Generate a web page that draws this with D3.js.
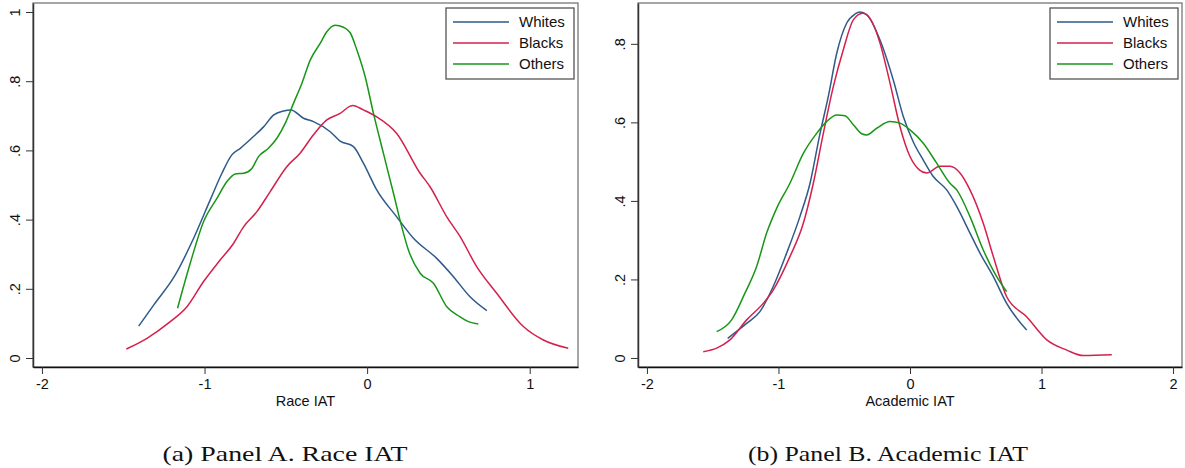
<!DOCTYPE html>
<html>
<head>
<meta charset="utf-8">
<script src="https://cdn.jsdelivr.net/npm/d3@7"></script>
<style>
    html, body { margin: 0; padding: 0; background: #fff; }
    svg { display: block; }
</style>
</head>
<body>
<div id="chart"></div>
<script>
// series labels
var groups = ['Whites', 'Blacks', 'Others'];
var groupColors = ['#2f5a89', '#d4204c', '#189618'];

// Panel A: Race IAT, kernel density estimates [IAT, density]
var raceWhites = [[-1.405, 0.092], [-1.313, 0.153], [-1.18, 0.24], [-1.067, 0.346], [-0.965, 0.457],
    [-0.893, 0.534], [-0.832, 0.587], [-0.78, 0.606], [-0.699, 0.64], [-0.637, 0.668], [-0.576, 0.702],
    [-0.514, 0.714], [-0.469, 0.717], [-0.391, 0.693], [-0.33, 0.683], [-0.227, 0.654], [-0.166, 0.627],
    [-0.084, 0.611], [-0.023, 0.563], [0.059, 0.486], [0.182, 0.408], [0.285, 0.346], [0.428, 0.288],
    [0.531, 0.235], [0.633, 0.177], [0.736, 0.137]];
var raceBlacks = [[-1.481, 0.026], [-1.354, 0.057], [-1.211, 0.105], [-1.108, 0.148], [-1.006, 0.221],
    [-0.904, 0.283], [-0.822, 0.331], [-0.76, 0.379], [-0.678, 0.423], [-0.596, 0.481], [-0.494, 0.553],
    [-0.412, 0.592], [-0.33, 0.645], [-0.248, 0.688], [-0.166, 0.707], [-0.104, 0.728], [-0.088, 0.73],
    [-0.023, 0.717], [0.059, 0.697], [0.182, 0.649], [0.326, 0.534], [0.387, 0.495], [0.49, 0.408],
    [0.572, 0.351], [0.674, 0.264], [0.797, 0.187], [0.961, 0.091], [1.084, 0.052], [1.237, 0.028]];
var raceOthers = [[-1.166, 0.144], [-1.088, 0.274], [-1.006, 0.394], [-0.924, 0.461], [-0.862, 0.51],
    [-0.811, 0.532], [-0.76, 0.534], [-0.709, 0.548], [-0.668, 0.582], [-0.607, 0.606], [-0.555, 0.635],
    [-0.504, 0.678], [-0.453, 0.736], [-0.401, 0.794], [-0.35, 0.861], [-0.289, 0.909], [-0.248, 0.943],
    [-0.197, 0.962], [-0.146, 0.956], [-0.104, 0.94], [-0.063, 0.89], [-0.012, 0.813], [0.039, 0.707],
    [0.1, 0.592], [0.162, 0.476], [0.213, 0.379], [0.254, 0.312], [0.326, 0.245], [0.408, 0.216],
    [0.49, 0.148], [0.572, 0.119], [0.623, 0.105], [0.684, 0.098]];

// Panel B: Academic IAT
var academicWhites = [[-1.386, 0.05], [-1.242, 0.088], [-1.141, 0.118], [-1.04, 0.182], [-0.938, 0.267],
    [-0.837, 0.36], [-0.76, 0.445], [-0.684, 0.572], [-0.621, 0.666], [-0.557, 0.776], [-0.481, 0.853],
    [-0.418, 0.876], [-0.38, 0.881], [-0.329, 0.874], [-0.228, 0.81], [-0.127, 0.708], [-0.051, 0.615],
    [0.025, 0.55], [0.101, 0.504], [0.177, 0.462], [0.279, 0.428], [0.355, 0.386], [0.456, 0.318],
    [0.532, 0.267], [0.634, 0.207], [0.735, 0.139], [0.887, 0.071]];
var academicBlacks = [[-1.572, 0.016], [-1.47, 0.025], [-1.369, 0.046], [-1.242, 0.097], [-1.116, 0.139],
    [-1.04, 0.173], [-0.913, 0.258], [-0.811, 0.343], [-0.735, 0.445], [-0.659, 0.572], [-0.583, 0.691],
    [-0.507, 0.785], [-0.431, 0.861], [-0.36, 0.878], [-0.304, 0.865], [-0.228, 0.802], [-0.152, 0.7],
    [-0.076, 0.589], [0.0, 0.513], [0.071, 0.479], [0.127, 0.471], [0.228, 0.488], [0.304, 0.488],
    [0.38, 0.471], [0.456, 0.428], [0.557, 0.343], [0.634, 0.258], [0.735, 0.156], [0.887, 0.105],
    [1.04, 0.046], [1.192, 0.02], [1.318, 0.006], [1.534, 0.008]];
var academicOthers = [[-1.47, 0.067], [-1.356, 0.097], [-1.255, 0.165], [-1.166, 0.233], [-1.09, 0.318],
    [-1.014, 0.381], [-0.913, 0.445], [-0.811, 0.521], [-0.71, 0.572], [-0.634, 0.602], [-0.557, 0.619],
    [-0.494, 0.617], [-0.431, 0.594], [-0.367, 0.571], [-0.329, 0.568], [-0.253, 0.585], [-0.152, 0.602],
    [-0.076, 0.598], [0.0, 0.581], [0.101, 0.547], [0.203, 0.496], [0.304, 0.445], [0.355, 0.428],
    [0.456, 0.36], [0.557, 0.275], [0.659, 0.207], [0.735, 0.169]];

// tick values
var raceXTicks = [-2, -1, 0, 1];
var raceYTicks = [0, 0.2, 0.4, 0.6, 0.8, 1];
var academicXTicks = [-2, -1, 0, 1, 2];
var academicYTicks = [0, 0.2, 0.4, 0.6, 0.8];

var panels = [
    {
        series: [raceWhites, raceBlacks, raceOthers],
        xDomain: [-2.055, 1.297], yDomain: [-0.026, 1.026],
        left: 33, right: 578, xTicks: raceXTicks, yTicks: raceYTicks,
        xTitle: 'Race IAT', caption: '(a) Panel A. Race IAT', captionX: 285, captionW: 245
    },
    {
        series: [academicWhites, academicBlacks, academicOthers],
        xDomain: [-2.068, 2.068], yDomain: [-0.023, 0.904],
        left: 638, right: 1182, xTicks: academicXTicks, yTicks: academicYTicks,
        xTitle: 'Academic IAT', caption: '(b) Panel B. Academic IAT', captionX: 888, captionW: 280
    }
];

var width = 1185, height = 468;
var plotTop = 3, plotBottom = 367;
var font = 'Arial, "Liberation Sans", Helvetica, sans-serif';

var svg = d3.select('#chart')
    .append('svg')
    .attr('width', width)
    .attr('height', height);

// stata style labels: 0, .2, .4 ... and plain hyphen for minus
var fmt = function(d) {
    var s = String(Math.round(d * 10) / 10);
    return s.replace(/^0\./, '.').replace(/^-0\./, '-.');
};

panels.forEach(function(p) {
    var x = d3.scaleLinear().domain(p.xDomain).range([p.left, p.right]);
    var y = d3.scaleLinear().domain(p.yDomain).range([plotBottom, plotTop]);
    var g = svg.append('g');

    // plot region outline
    g.append('rect')
        .attr('x', p.left)
        .attr('y', plotTop)
        .attr('width', p.right - p.left)
        .attr('height', plotBottom - plotTop)
        .attr('fill', 'none')
        .attr('stroke', '#777')
        .attr('stroke-width', 1.3);

    var yAxis = g.append('g')
        .attr('transform', 'translate(' + p.left + ',0)')
        .call(d3.axisLeft(y).tickValues(p.yTicks).tickSize(7).tickSizeOuter(0).tickFormat(fmt));
    yAxis.select('.domain').attr('stroke', '#333').attr('stroke-width', 1.5);
    yAxis.selectAll('.tick line').attr('stroke', '#333');
    yAxis.selectAll('.tick text')
        .attr('font-family', font)
        .attr('font-size', 14.5)
        .attr('fill', '#111')
        .attr('text-anchor', 'middle')
        .attr('x', 0)
        .attr('y', 0)
        .attr('dy', 0)
        .attr('transform', 'translate(-13,0) rotate(-90)');

    var xAxis = g.append('g')
        .attr('transform', 'translate(0,' + plotBottom + ')')
        .call(d3.axisBottom(x).tickValues(p.xTicks).tickSize(7).tickSizeOuter(0).tickPadding(5).tickFormat(fmt));
    xAxis.select('.domain').attr('stroke', '#111').attr('stroke-width', 1.5);
    xAxis.selectAll('.tick line').attr('stroke', '#333');
    xAxis.selectAll('.tick text')
        .attr('font-family', font)
        .attr('font-size', 14.5)
        .attr('fill', '#111');

    g.append('text')
        .attr('x', (p.left + p.right) / 2)
        .attr('y', 406)
        .attr('text-anchor', 'middle')
        .attr('font-family', font)
        .attr('font-size', 14.5)
        .attr('fill', '#111')
        .text(p.xTitle);

    var line = d3.line()
        .x(function(d) { return x(d[0]); })
        .y(function(d) { return y(d[1]); })
        .curve(d3.curveMonotoneX);

    p.series.forEach(function(s, i) {
        g.append('path')
            .datum(s)
            .attr('fill', 'none')
            .attr('stroke', groupColors[i])
            .attr('stroke-width', 1.5)
            .attr('stroke-linejoin', 'round')
            .attr('d', line);
    });

    // legend, top right inside the plot
    var lx = p.right - 132, ly = plotTop + 5;
    var legend = g.append('g').attr('transform', 'translate(' + lx + ',' + ly + ')');
    legend.append('rect')
        .attr('width', 128)
        .attr('height', 71)
        .attr('fill', '#fff')
        .attr('stroke', '#555')
        .attr('stroke-width', 1.3);
    groups.forEach(function(name, i) {
        var row = legend.append('g').attr('transform', 'translate(0,' + (14 + i * 21) + ')');
        row.append('line')
            .attr('x1', 7).attr('x2', 63)
            .attr('stroke', groupColors[i])
            .attr('stroke-width', 1.5);
        row.append('text')
            .attr('x', 73)
            .attr('dy', '0.35em')
            .attr('font-family', font)
            .attr('font-size', 15)
            .attr('fill', '#111')
            .text(name);
    });

    svg.append('text')
        .attr('x', p.captionX)
        .attr('y', 461)
        .attr('text-anchor', 'middle')
        .attr('font-family', '"Liberation Serif", "DejaVu Serif", serif')
        .attr('font-size', 21)
        .attr('fill', '#111')
        .attr('textLength', p.captionW)
        .attr('lengthAdjust', 'spacingAndGlyphs')
        .text(p.caption);
});
</script>
</body>
</html>
